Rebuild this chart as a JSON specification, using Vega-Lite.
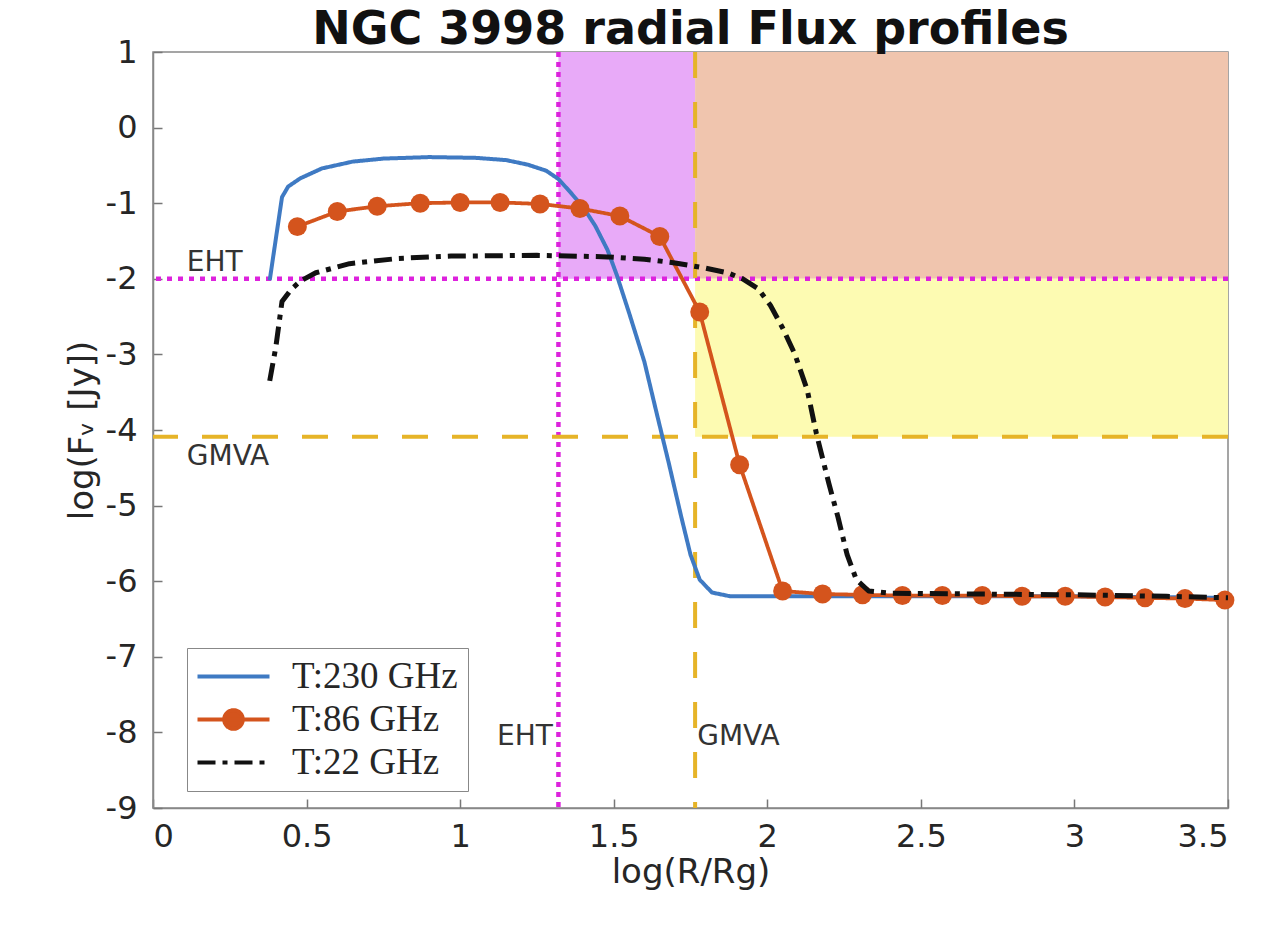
{
  "$schema": "https://vega.github.io/schema/vega-lite/v6.json",
  "width": 1075,
  "height": 756,
  "autosize": {"type": "none"},
  "padding": {"left": 153, "top": 52, "right": 56, "bottom": 119},
  "background": "white",
  "title": {
    "text": "NGC 3998 radial Flux profiles",
    "font": "DejaVu Sans",
    "fontSize": 46,
    "fontWeight": "bold",
    "color": "#111111",
    "anchor": "middle",
    "offset": -18
  },
  "config": {
    "view": {"stroke": "#888888", "strokeWidth": 1.5},
    "axis": {
      "grid": false,
      "domainColor": "#888888",
      "domainWidth": 1.5,
      "tickColor": "#777777",
      "tickWidth": 1.5,
      "tickSize": -9,
      "labelFont": "DejaVu Sans",
      "labelFontSize": 32,
      "labelColor": "#262626",
      "titleFont": "DejaVu Sans",
      "titleFontSize": 34,
      "titleFontWeight": "normal",
      "titleColor": "#262626"
    },
    "legend": {
      "orient": "none",
      "legendX": 34,
      "legendY": 596,
      "padding": 10,
      "strokeColor": "#888888",
      "fillColor": "white",
      "labelFont": "Liberation Serif",
      "labelFontSize": 37,
      "labelColor": "#262626",
      "labelLimit": 400,
      "symbolSize": 900,
      "symbolStrokeWidth": 4,
      "symbolOffset": 18,
      "labelOffset": 40,
      "rowPadding": 5
    }
  },
  "datasets": {
    "flux": [
      {"band": "T:230 GHz", "logR": 0.38, "logF": -2.02},
      {"band": "T:230 GHz", "logR": 0.42, "logF": -0.92},
      {"band": "T:230 GHz", "logR": 0.44, "logF": -0.78},
      {"band": "T:230 GHz", "logR": 0.48, "logF": -0.67},
      {"band": "T:230 GHz", "logR": 0.55, "logF": -0.54},
      {"band": "T:230 GHz", "logR": 0.65, "logF": -0.45},
      {"band": "T:230 GHz", "logR": 0.75, "logF": -0.41},
      {"band": "T:230 GHz", "logR": 0.9, "logF": -0.39},
      {"band": "T:230 GHz", "logR": 1.05, "logF": -0.4},
      {"band": "T:230 GHz", "logR": 1.15, "logF": -0.43},
      {"band": "T:230 GHz", "logR": 1.22, "logF": -0.49},
      {"band": "T:230 GHz", "logR": 1.28, "logF": -0.57},
      {"band": "T:230 GHz", "logR": 1.32, "logF": -0.68},
      {"band": "T:230 GHz", "logR": 1.36, "logF": -0.86},
      {"band": "T:230 GHz", "logR": 1.4, "logF": -1.05},
      {"band": "T:230 GHz", "logR": 1.44, "logF": -1.3},
      {"band": "T:230 GHz", "logR": 1.48, "logF": -1.62},
      {"band": "T:230 GHz", "logR": 1.51, "logF": -1.95},
      {"band": "T:230 GHz", "logR": 1.55, "logF": -2.45},
      {"band": "T:230 GHz", "logR": 1.6, "logF": -3.1},
      {"band": "T:230 GHz", "logR": 1.64, "logF": -3.78},
      {"band": "T:230 GHz", "logR": 1.68, "logF": -4.45},
      {"band": "T:230 GHz", "logR": 1.72, "logF": -5.15},
      {"band": "T:230 GHz", "logR": 1.75, "logF": -5.65},
      {"band": "T:230 GHz", "logR": 1.78, "logF": -5.98},
      {"band": "T:230 GHz", "logR": 1.82, "logF": -6.15},
      {"band": "T:230 GHz", "logR": 1.88, "logF": -6.2},
      {"band": "T:230 GHz", "logR": 2.0, "logF": -6.2},
      {"band": "T:230 GHz", "logR": 2.5, "logF": -6.2},
      {"band": "T:230 GHz", "logR": 3.0, "logF": -6.2},
      {"band": "T:230 GHz", "logR": 3.5, "logF": -6.22},
      {"band": "T:86 GHz", "logR": 0.47, "logF": -1.31},
      {"band": "T:86 GHz", "logR": 0.6, "logF": -1.11},
      {"band": "T:86 GHz", "logR": 0.73, "logF": -1.04},
      {"band": "T:86 GHz", "logR": 0.87, "logF": -1.0},
      {"band": "T:86 GHz", "logR": 1.0, "logF": -0.99},
      {"band": "T:86 GHz", "logR": 1.13, "logF": -0.99},
      {"band": "T:86 GHz", "logR": 1.26, "logF": -1.01},
      {"band": "T:86 GHz", "logR": 1.39, "logF": -1.07},
      {"band": "T:86 GHz", "logR": 1.52, "logF": -1.17},
      {"band": "T:86 GHz", "logR": 1.65, "logF": -1.44},
      {"band": "T:86 GHz", "logR": 1.78, "logF": -2.44},
      {"band": "T:86 GHz", "logR": 1.91, "logF": -4.46},
      {"band": "T:86 GHz", "logR": 2.05, "logF": -6.13},
      {"band": "T:86 GHz", "logR": 2.18, "logF": -6.17},
      {"band": "T:86 GHz", "logR": 2.31, "logF": -6.18},
      {"band": "T:86 GHz", "logR": 2.44, "logF": -6.19},
      {"band": "T:86 GHz", "logR": 2.57, "logF": -6.19},
      {"band": "T:86 GHz", "logR": 2.7, "logF": -6.19},
      {"band": "T:86 GHz", "logR": 2.83, "logF": -6.2},
      {"band": "T:86 GHz", "logR": 2.97, "logF": -6.2},
      {"band": "T:86 GHz", "logR": 3.1, "logF": -6.21},
      {"band": "T:86 GHz", "logR": 3.23, "logF": -6.22},
      {"band": "T:86 GHz", "logR": 3.36, "logF": -6.23},
      {"band": "T:86 GHz", "logR": 3.49, "logF": -6.25},
      {"band": "T:22 GHz", "logR": 0.38, "logF": -3.35},
      {"band": "T:22 GHz", "logR": 0.4, "logF": -2.9},
      {"band": "T:22 GHz", "logR": 0.42, "logF": -2.3},
      {"band": "T:22 GHz", "logR": 0.45, "logF": -2.14},
      {"band": "T:22 GHz", "logR": 0.48, "logF": -2.03},
      {"band": "T:22 GHz", "logR": 0.53, "logF": -1.92},
      {"band": "T:22 GHz", "logR": 0.64, "logF": -1.8},
      {"band": "T:22 GHz", "logR": 0.8, "logF": -1.73},
      {"band": "T:22 GHz", "logR": 0.97, "logF": -1.7},
      {"band": "T:22 GHz", "logR": 1.25, "logF": -1.69},
      {"band": "T:22 GHz", "logR": 1.48, "logF": -1.71},
      {"band": "T:22 GHz", "logR": 1.6, "logF": -1.74},
      {"band": "T:22 GHz", "logR": 1.7, "logF": -1.79},
      {"band": "T:22 GHz", "logR": 1.8, "logF": -1.86},
      {"band": "T:22 GHz", "logR": 1.87, "logF": -1.92},
      {"band": "T:22 GHz", "logR": 1.92, "logF": -2.0},
      {"band": "T:22 GHz", "logR": 1.97, "logF": -2.13},
      {"band": "T:22 GHz", "logR": 2.01, "logF": -2.35},
      {"band": "T:22 GHz", "logR": 2.05, "logF": -2.65},
      {"band": "T:22 GHz", "logR": 2.09, "logF": -3.0},
      {"band": "T:22 GHz", "logR": 2.13, "logF": -3.47},
      {"band": "T:22 GHz", "logR": 2.16, "logF": -4.05},
      {"band": "T:22 GHz", "logR": 2.2, "logF": -4.7},
      {"band": "T:22 GHz", "logR": 2.23, "logF": -5.15},
      {"band": "T:22 GHz", "logR": 2.26, "logF": -5.65},
      {"band": "T:22 GHz", "logR": 2.29, "logF": -5.98},
      {"band": "T:22 GHz", "logR": 2.33, "logF": -6.13},
      {"band": "T:22 GHz", "logR": 2.4, "logF": -6.16},
      {"band": "T:22 GHz", "logR": 2.7, "logF": -6.17},
      {"band": "T:22 GHz", "logR": 3.0, "logF": -6.18},
      {"band": "T:22 GHz", "logR": 3.3, "logF": -6.2},
      {"band": "T:22 GHz", "logR": 3.5, "logF": -6.22}
    ],
    "zones": [
      {"zone": "EHT only", "r1": 1.32, "r2": 1.765, "f1": -2, "f2": 1},
      {"zone": "EHT and GMVA", "r1": 1.765, "r2": 3.5, "f1": -2, "f2": 1},
      {"zone": "GMVA only", "r1": 1.765, "r2": 3.5, "f1": -4.09, "f2": -2}
    ],
    "limits": [
      {"array": "EHT", "r": 1.32, "f": -2},
      {"array": "GMVA", "r": 1.765, "f": -4.09}
    ],
    "notes": [
      {"text": "EHT", "r": 0.11, "f": -1.79},
      {"text": "GMVA", "r": 0.11, "f": -4.36},
      {"text": "EHT", "r": 1.12, "f": -8.06},
      {"text": "GMVA", "r": 1.772, "f": -8.06}
    ]
  },
  "encoding": {
    "x": {
      "field": "logR",
      "type": "quantitative",
      "scale": {"domain": [0, 3.5], "nice": false, "zero": false},
      "axis": {
        "title": "log(R/Rg)",
        "values": [0, 0.5, 1, 1.5, 2, 2.5, 3, 3.5],
        "labelExpr": "'' + datum.value",
        "labelPadding": 22,
        "titlePadding": 3
      }
    },
    "y": {
      "field": "logF",
      "type": "quantitative",
      "scale": {"domain": [-9, 1], "nice": false, "zero": false},
      "axis": {
        "title": "log(Fᵥ [Jy])",
        "values": [-9, -8, -7, -6, -5, -4, -3, -2, -1, 0, 1],
        "labelExpr": "'' + datum.value",
        "labelPadding": 25,
        "titlePadding": 6
      }
    }
  },
  "layer": [
    {
      "data": {"name": "zones"},
      "mark": {"type": "rect", "opacity": 1},
      "encoding": {
        "x": {"field": "r1", "type": "quantitative"},
        "x2": {"field": "r2"},
        "y": {"field": "f1", "type": "quantitative"},
        "y2": {"field": "f2"},
        "fill": {
          "field": "zone",
          "type": "nominal",
          "scale": {"domain": ["EHT only", "EHT and GMVA", "GMVA only"], "range": ["#e8aaf8", "#f0c5ae", "#fdfbb2"]},
          "legend": null
        }
      }
    },
    {
      "data": {"name": "limits"},
      "transform": [{"filter": "datum.array === 'EHT'"}],
      "mark": {"type": "rule", "color": "#dd22dd", "strokeWidth": 4.5, "strokeDash": [5, 5]},
      "encoding": {"x": {"field": "r", "type": "quantitative"}, "y": null}
    },
    {
      "data": {"name": "limits"},
      "transform": [{"filter": "datum.array === 'EHT'"}],
      "mark": {"type": "rule", "color": "#dd22dd", "strokeWidth": 4.5, "strokeDash": [5, 6]},
      "encoding": {"y": {"field": "f", "type": "quantitative"}, "x": null}
    },
    {
      "data": {"name": "limits"},
      "transform": [{"filter": "datum.array === 'GMVA'"}],
      "mark": {"type": "rule", "color": "#e6b428", "strokeWidth": 4, "strokeDash": [26, 24]},
      "encoding": {"x": {"field": "r", "type": "quantitative"}, "y": null}
    },
    {
      "data": {"name": "limits"},
      "transform": [{"filter": "datum.array === 'GMVA'"}],
      "mark": {"type": "rule", "color": "#e6b428", "strokeWidth": 4, "strokeDash": [26, 24]},
      "encoding": {"y": {"field": "f", "type": "quantitative"}, "x": null}
    },
    {
      "data": {"name": "flux"},
      "transform": [{"filter": "datum.band === 'T:230 GHz'"}],
      "mark": {"type": "line", "strokeWidth": 4, "strokeCap": "butt", "strokeJoin": "round"},
      "encoding": {
        "color": {
          "field": "band",
          "type": "nominal",
          "scale": {"domain": ["T:230 GHz", "T:86 GHz", "T:22 GHz"], "range": ["#3f7ac3", "#d4541d", "#111111"]},
          "legend": {
            "title": null,
            "encode": {
              "symbols": {
                "update": {
                  "shape": [
                    {"test": "datum.value === 'T:86 GHz'", "value": "M-2.4,0L2.4,0M0.62,0A0.62,0.62,0,1,1,-0.62,0A0.62,0.62,0,1,1,0.62,0Z"},
                    {"value": "M-2.4,0L2.4,0"}
                  ],
                  "fill": [
                    {"test": "datum.value === 'T:86 GHz'", "value": "#d4541d"},
                    {"value": "transparent"}
                  ]
                }
              }
            }
          }
        },
        "strokeDash": {
          "field": "band",
          "type": "nominal",
          "scale": {"domain": ["T:230 GHz", "T:86 GHz", "T:22 GHz"], "range": [[1, 0], [1, 0], [18, 7, 5, 7]]},
          "legend": {"title": null}
        }
      }
    },
    {
      "data": {"name": "flux"},
      "transform": [{"filter": "datum.band === 'T:86 GHz'"}],
      "mark": {"type": "line", "strokeWidth": 3.8, "strokeCap": "butt", "strokeJoin": "round"},
      "encoding": {
        "color": {"field": "band", "type": "nominal", "legend": null},
        "strokeDash": {"field": "band", "type": "nominal", "legend": null}
      }
    },
    {
      "data": {"name": "flux"},
      "transform": [{"filter": "datum.band === 'T:86 GHz'"}],
      "mark": {"type": "point", "filled": true, "size": 360, "opacity": 1, "shape": "circle"},
      "encoding": {
        "color": {"field": "band", "type": "nominal", "legend": null}
      }
    },
    {
      "data": {"name": "flux"},
      "transform": [{"filter": "datum.band === 'T:22 GHz'"}],
      "mark": {"type": "line", "strokeWidth": 5, "strokeCap": "butt", "strokeJoin": "round"},
      "encoding": {
        "color": {"field": "band", "type": "nominal", "legend": null},
        "strokeDash": {"field": "band", "type": "nominal", "legend": null}
      }
    },
    {
      "data": {"name": "notes"},
      "mark": {"type": "text", "align": "left", "baseline": "middle", "font": "DejaVu Sans", "fontSize": 28, "color": "#333333"},
      "encoding": {
        "x": {"field": "r", "type": "quantitative"},
        "y": {"field": "f", "type": "quantitative"},
        "text": {"field": "text"}
      }
    }
  ]
}
